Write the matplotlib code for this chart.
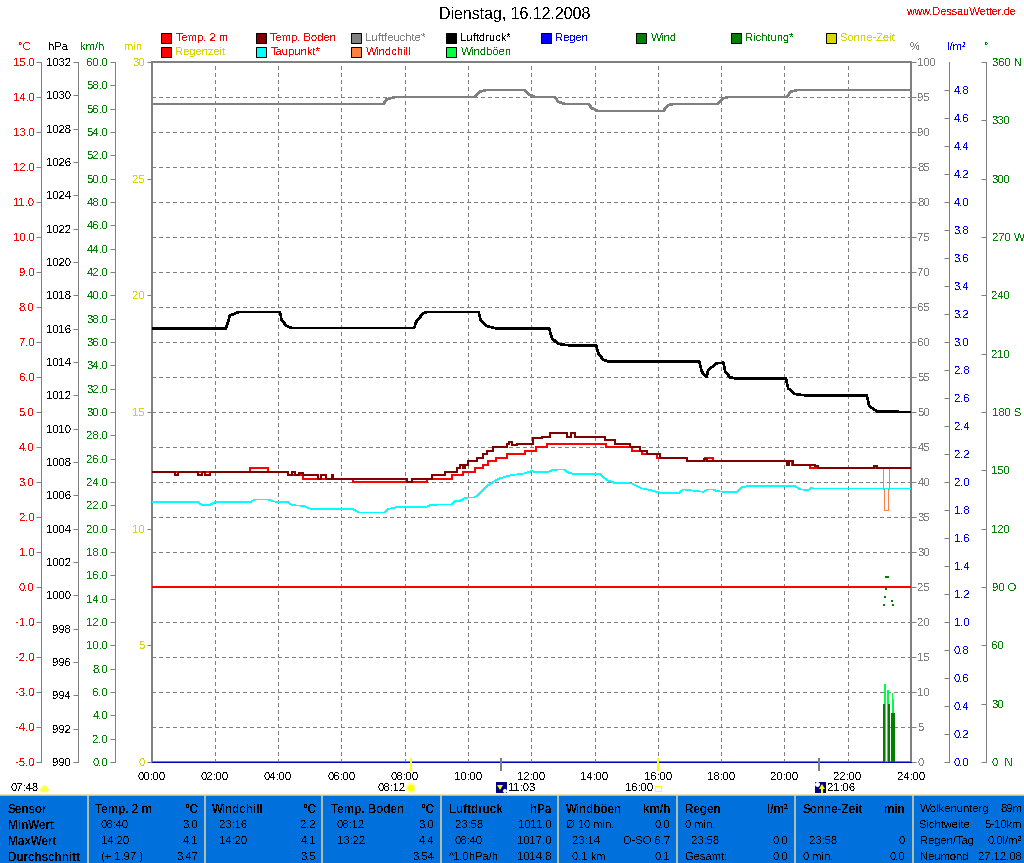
import matplotlib
matplotlib.use('Agg')
import matplotlib.pyplot as plt
from matplotlib.patches import Rectangle, Circle, Ellipse, Polygon

plt.rcParams['font.family'] = ['Liberation Sans', 'DejaVu Sans']
plt.rcParams['text.antialiased'] = False
plt.rcParams['text.hinting'] = 'native'

# ---------- data ----------
hours = list(range(0, 25, 2))
hour_labels = [f'{h:02d}:00' for h in hours]

pressure_t = [0, 2.35, 2.48, 2.77, 4.06, 4.11, 4.27, 4.43, 8.30, 8.36, 8.59, 8.70, 10.34, 10.40, 10.59, 10.91,
              12.57, 12.65, 12.85, 13.19, 14.05, 14.12, 14.28, 14.47, 17.31, 17.39, 17.54, 17.59, 17.86, 18.07,
              18.13, 18.28, 18.51, 20.05, 20.12, 20.33, 20.65, 22.60, 22.68, 22.92, 24]
pressure_v = [1016.0, 1016.0, 1016.8, 1017.0, 1017.0, 1016.52, 1016.16, 1016.04, 1016.04, 1016.4, 1016.94, 1017.0,
              1017.0, 1016.52, 1016.16, 1016.0, 1016.0, 1015.44, 1015.08, 1015.0, 1015.0, 1014.52, 1014.12, 1014.02,
              1014.02, 1013.42, 1013.08, 1013.52, 1013.92, 1013.96, 1013.42, 1013.08, 1013.0, 1013.0, 1012.42,
              1012.08, 1012.0, 1012.0, 1011.36, 1011.04, 1011.0]

humid_t = [0, 7.33, 7.43, 7.69, 10.22, 10.38, 10.59, 11.80, 11.91, 12.12, 12.75, 12.85, 13.07, 13.82, 13.91, 14.12,
           16.17, 16.33, 16.51, 17.89, 18.06, 18.22, 20.07, 20.20, 20.41, 24]
humid_v = [94, 94, 94.67, 95, 95, 95.76, 96, 96, 95.4, 95, 95, 94.3, 94, 94, 93.4, 93,
           93, 93.86, 94, 94, 94.8, 95, 95, 95.76, 96, 96]

temp_t = [0, 3.11, 3.69, 4.32, 4.80, 6.38, 8.70, 9.49, 9.83, 10.22, 10.49, 10.64, 10.89, 11.22, 11.80, 12.15, 12.49,
          14.36, 15.17, 15.49, 15.96, 16.91, 17.49, 17.73, 20.23, 20.81, 24]
temp_v = [3.3, 3.4, 3.3, 3.2, 3.1, 3.0, 3.1, 3.2, 3.3, 3.4, 3.5, 3.6, 3.7, 3.8, 3.9, 4.0, 4.1,
          4.0, 3.9, 3.8, 3.7, 3.6, 3.7, 3.6, 3.5, 3.4, 3.4]

soil_t = [0, 0.75, 0.85, 1.48, 1.60, 1.70, 1.85, 4.32, 4.45, 4.55, 4.65, 4.80, 5.27, 5.35, 5.50, 5.70, 5.75, 8.06,
          8.22, 8.85, 9.27, 9.64, 9.75, 9.85, 9.90, 10.01, 10.27, 10.49, 10.59, 10.80, 11.22, 11.30, 11.40, 11.55,
          12.07, 12.33, 12.59, 13.12, 13.25, 13.38, 14.33, 14.65, 15.12, 15.44, 15.65, 16.07, 16.91, 17.45, 17.55,
          20.07, 20.15, 20.28, 20.97, 21.05, 22.83, 22.93, 24]
soil_v = [3.3, 3.2, 3.3, 3.2, 3.3, 3.2, 3.3, 3.2, 3.3, 3.2, 3.25, 3.2, 3.1, 3.2, 3.1, 3.2, 3.1, 3.0,
          3.1, 3.2, 3.3, 3.4, 3.5, 3.4, 3.5, 3.6, 3.7, 3.8, 3.9, 4.0, 4.1, 4.15, 4.05, 4.1,
          4.25, 4.3, 4.4, 4.3, 4.4, 4.3, 4.2, 4.1, 4.0, 3.9, 3.8, 3.7, 3.6, 3.65, 3.6,
          3.5, 3.6, 3.5, 3.45, 3.4, 3.45, 3.4, 3.4]

dew_t = [0, 1.48, 1.58, 1.80, 2.01, 3.11, 3.27, 3.69, 3.80, 4.01, 4.32, 4.43, 4.80, 4.96, 5.11, 6.38, 6.54, 7.38,
         7.48, 7.75, 8.64, 8.85, 9.49, 9.59, 9.75, 9.91, 10.22, 10.43, 10.64, 10.96, 11.33, 11.64, 11.80, 12.01,
         12.17, 12.49, 12.70, 13.04, 13.17, 13.33, 14.17, 14.38, 14.65, 15.17, 15.49, 15.75, 16.12, 16.65, 16.81,
         16.96, 17.44, 17.60, 17.75, 17.86, 18.18, 18.49, 18.65, 18.91, 20.33, 20.49, 20.75, 20.86, 20.91, 24]
dew_v = [2.42, 2.42, 2.35, 2.33, 2.42, 2.42, 2.50, 2.50, 2.46, 2.42, 2.42, 2.34, 2.32, 2.25, 2.22, 2.22, 2.13, 2.13,
         2.23, 2.28, 2.28, 2.35, 2.36, 2.45, 2.46, 2.55, 2.56, 2.72, 2.91, 3.09, 3.19, 3.23, 3.25, 3.31,
         3.28, 3.28, 3.35, 3.36, 3.27, 3.23, 3.23, 3.06, 2.97, 2.96, 2.82, 2.77, 2.68, 2.68, 2.79,
         2.77, 2.72, 2.79, 2.79, 2.74, 2.71, 2.71, 2.85, 2.89, 2.88, 2.79, 2.77, 2.84, 2.81, 2.81]

chill_t = [23.13, 23.13, 23.16, 23.16, 23.27, 23.27, 23.30, 23.30]
chill_v = [3.4, 2.8, 2.8, 2.2, 2.2, 2.8, 2.8, 3.4]

zero_t = [0, 24]
zero_v = [0.0, 0.0]

rain_t = [0, 24]
rain_v = [0.0, 0.0]

dir_t = [23.22, 23.28, 23.21, 23.18, 23.40, 23.14, 23.43]
dir_v = [95, 95, 89, 85, 83, 81, 81]

gust_l = [23.15, 23.25, 23.40, 23.44]
gust_r = [23.21, 23.29, 23.44, 23.47]
gust_v = [6.7, 6.2, 5.9, 5.4]

wind_l = [23.11, 23.27, 23.37]
wind_r = [23.19, 23.34, 23.50]
wind_v = [5.0, 5.0, 4.2]

sun_ticks = [8.2, 16.0]
moon_ticks = [11.05, 21.1]

temp_ticks = list(range(-5, 16))
press_ticks = list(range(990, 1033, 2))
kmh_ticks = list(range(0, 61, 2))
min_ticks = list(range(0, 31, 5))
pct_ticks = list(range(0, 101, 5))
rain_ticks = [i / 5 for i in range(0, 25)]
deg_ticks = list(range(0, 361, 30))
deg_labels = {0: '0  N', 90: '90 O', 180: '180 S', 270: '270 W', 360: '360 N'}

legend_cols = [161, 256, 351, 446, 541, 636, 731, 826]
legend_row1 = [('Temp. 2 m', '#ff0000', '#ff0000'), ('Temp. Boden', '#800000', '#ff0000'),
               ('Luftfeuchte*', '#808080', '#808080'), ('Luftdruck*', '#000000', '#000000'),
               ('Regen', '#0000ff', '#0000ff'), ('Wind', '#008000', '#008000'),
               ('Richtung*', '#008000', '#008000'), ('Sonne-Zeit', '#d8d800', '#d8d800')]
legend_row2 = [('Regenzeit', '#ff0000', '#d8d800'), ('Taupunkt*', '#00ffff', '#ff0000'),
               ('Windchill', '#ff8040', '#ff0000'), ('Windböen', '#00ff40', '#008000')]

units = [(25, '°C', '#ff0000'), (58, 'hPa', '#000000'), (92, 'km/h', '#008000'), (133, 'min', '#d8d800'),
         (915, '%', '#808080'), (957, 'l/m²', '#0000ff'), (987, '°', '#008000')]

separators = [88, 205, 322, 441, 558, 677, 795, 913]
row_y = [809, 825, 841, 857]
# (x, text, row, bold, align)
table = [
    (8, 'Sensor', 0, True, 'left'), (8, 'MinWert', 1, True, 'left'), (8, 'MaxWert', 2, True, 'left'),
    (8, 'Durchschnitt', 3, True, 'left'),
    (95, 'Temp. 2 m', 0, True, 'left'), (198, '°C', 0, True, 'right'),
    (101, '08:40', 1, False, 'left'), (198, '3.0', 1, False, 'right'),
    (101, '14:20', 2, False, 'left'), (198, '4.1', 2, False, 'right'),
    (101, '(+ 1.97 )', 3, False, 'left'), (198, '3.47', 3, False, 'right'),
    (212, 'Windchill', 0, True, 'left'), (316, '°C', 0, True, 'right'),
    (219, '23:16', 1, False, 'left'), (316, '2.2', 1, False, 'right'),
    (219, '14:20', 2, False, 'left'), (316, '4.1', 2, False, 'right'),
    (316, '3.5', 3, False, 'right'),
    (331, 'Temp. Boden', 0, True, 'left'), (434, '°C', 0, True, 'right'),
    (337, '08:12', 1, False, 'left'), (434, '3.0', 1, False, 'right'),
    (337, '13:22', 2, False, 'left'), (434, '4.4', 2, False, 'right'),
    (434, '3.54', 3, False, 'right'),
    (449, 'Luftdruck', 0, True, 'left'), (552, 'hPa', 0, True, 'right'),
    (455, '23:58', 1, False, 'left'), (552, '1011.0', 1, False, 'right'),
    (455, '08:40', 2, False, 'left'), (552, '1017.0', 2, False, 'right'),
    (449, '^1.0hPa/h', 3, False, 'left'), (552, '1014.8', 3, False, 'right'),
    (566, 'Windböen', 0, True, 'left'), (670, 'km/h', 0, True, 'right'),
    (566, 'Ø 10 min.', 1, False, 'left'), (670, '0.0', 1, False, 'right'),
    (572, '23:14', 2, False, 'left'), (670, 'O-SO 6.7', 2, False, 'right'),
    (572, '0.1 km', 3, False, 'left'), (670, '0.1', 3, False, 'right'),
    (685, 'Regen', 0, True, 'left'), (788, 'l/m²', 0, True, 'right'),
    (685, '0 min.', 1, False, 'left'),
    (691, '23:58', 2, False, 'left'), (788, '0.0', 2, False, 'right'),
    (685, 'Gesamt:', 3, False, 'left'), (788, '0.0', 3, False, 'right'),
    (803, 'Sonne-Zeit', 0, True, 'left'), (905, 'min', 0, True, 'right'),
    (809, '23:58', 2, False, 'left'), (905, '0', 2, False, 'right'),
    (803, '0 min.', 3, False, 'left'), (905, '0.0', 3, False, 'right'),
    (920, 'Wolkenunterg', 0, False, 'left'), (1022, '89m', 0, False, 'right'),
    (920, 'Sichtweite', 1, False, 'left'), (1022, '5-10km', 1, False, 'right'),
    (920, 'Regen/Tag', 2, False, 'left'), (1022, '0.0l/m²', 2, False, 'right'),
    (920, 'Neumond', 3, False, 'left'), (1022, '27.12.08', 3, False, 'right'),
]
sun_times = [(11, '07:48'), (378, '08:12'), (508, '11:03'), (625, '16:00'), (827, '21:06')]

# ---------- figure ----------
GREY = '#808080'
PX = 0.72
FS = 8
LINE2 = 1.5 * PX
LINE1 = 0.7 * PX
fig = plt.figure(figsize=(10.24, 8.63), dpi=100, facecolor='white')
rect = [151.5 / 1024, 1 - 762 / 863, 759.5 / 1024, 700 / 863]

bg = fig.add_axes([0, 0, 1, 1], zorder=0)
bg.set_xlim(0, 1024)
bg.set_ylim(863, 0)
bg.axis('off')


def overlay(ylim, z):
    a = fig.add_axes(rect, zorder=z)
    a.set_xlim(0, 24)
    a.set_ylim(*ylim)
    a.patch.set_alpha(0)
    for s in a.spines.values():
        s.set_visible(False)
    a.set_xticks([])
    a.set_yticks([])
    return a


def style_axis(a, side, ticks, labels, color, outward, direction, pad):
    a.yaxis.set_ticks_position(side)
    a.yaxis.set_label_position(side)
    a.set_yticks(ticks)
    a.set_yticklabels(labels)
    a.tick_params(axis='y', which='major', direction=direction, length=5 * PX, width=PX, color=GREY,
                  labelcolor=color, labelsize=FS, pad=pad)
    sp = a.spines[side]
    if outward > 0:
        sp.set_visible(True)
        sp.set_position(('outward', outward * PX))
        sp.set_color(GREY)
        sp.set_linewidth(PX)


# humidity axis carries grid and frame
ax_h = overlay((0, 100), 1)
ax_h.set_xticks(hours)
ax_h.set_xticklabels(hour_labels)
ax_h.tick_params(axis='x', length=0, labelsize=FS, pad=7.5, labelcolor='black')
style_axis(ax_h, 'right', pct_ticks, [str(p) for p in pct_ticks], GREY, 0, 'out', 1)
ax_h.grid(True, color=GREY, lw=PX, ls=(0, (3, 3)), antialiased=False)
ax_h.set_axisbelow(True)
for s in ax_h.spines.values():
    s.set_visible(True)
    s.set_color(GREY)
    s.set_linewidth(2 * PX)

ax_t = overlay((-5, 15), 2)
ax_p = overlay((990, 1032), 3)
ax_k = overlay((0, 60), 4)
ax_m = overlay((0, 30), 5)
ax_r = overlay((0, 5), 6)
ax_d = overlay((0, 360), 7)

style_axis(ax_t, 'left', temp_ticks, [f'{v:.1f}' for v in temp_ticks], '#ff0000', 110.5, 'out', 1)
style_axis(ax_p, 'left', press_ticks, [str(v) for v in press_ticks], '#000000', 74, 'out', 1)
style_axis(ax_k, 'left', kmh_ticks, [f'{v:.1f}' for v in kmh_ticks], '#008000', 37, 'out', 1)
style_axis(ax_m, 'left', min_ticks, [str(v) for v in min_ticks], '#d8d800', 0, 'out', 1)
style_axis(ax_r, 'right', rain_ticks, [f'{v:.1f}' for v in rain_ticks], '#0000ff', 37.5, 'in', 4)
style_axis(ax_d, 'right', deg_ticks, [deg_labels.get(v, str(v)) for v in deg_ticks], '#008000', 75, 'in', 4)

kw = dict(antialiased=False, solid_joinstyle='miter')
# wind bars
ax_k.bar(gust_l, gust_v, [r - l for l, r in zip(gust_l, gust_r)], align='edge', color='#00ff40', lw=0, zorder=2)
ax_k.bar(wind_l, wind_v, [r - l for l, r in zip(wind_l, wind_r)], align='edge', color='#008000', lw=0, zorder=3)
# direction dots
ax_d.plot(dir_t, dir_v, ls='none', marker='s', ms=2 * PX, color='#008000', mew=0, zorder=3)

ax_h.plot(humid_t, humid_v, color=GREY, lw=LINE2, **kw)
ax_p.plot(pressure_t, pressure_v, color='black', lw=LINE2, **kw)
ax_t.plot(zero_t, zero_v, color='#ff0000', lw=LINE2, **kw)
ax_t.plot(chill_t, chill_v, color='#ff8040', lw=LINE1, **kw)
ax_t.plot(dew_t, dew_v, color='#00ffff', lw=LINE1, **kw)
ax_t.step(temp_t, temp_v, where='post', color='#ff0000', lw=LINE2, **kw)
ax_t.step(soil_t, soil_v, where='post', color='#800000', lw=LINE2, **kw)
ax_r.plot(rain_t, rain_v, color='#0000c0', lw=LINE1, clip_on=False, **kw)

# sun / moon ticks under the axis
tr = ax_r.get_xaxis_transform()
ax_r.vlines(sun_ticks, -9 / 700, 4 / 700, transform=tr, color='#ffff00', lw=2 * PX, clip_on=False)
ax_r.vlines(moon_ticks, -9 / 700, 4 / 700, transform=tr, color=GREY, lw=2 * PX, clip_on=False)

# title and headers
bg.text(514.5, 15, 'Dienstag, 16.12.2008', ha='center', va='center', fontsize=11.4, color='black')
bg.text(1016, 12, 'www.DessauWetter.de', ha='right', va='center', fontsize=7.8, color='#ff0000')
for x, s, c in units:
    bg.text(x, 47, s, ha='center', va='center', fontsize=FS, color=c)

# legend
for row, y in ((legend_row1, 38), (legend_row2, 52)):
    for x, (s, sw, tc) in zip(legend_cols, row):
        bg.add_patch(Rectangle((x, y - 5), 10, 10, facecolor=sw, edgecolor='black', lw=PX))
        bg.text(x + 14.5, y, s, ha='left', va='center', fontsize=FS, color=tc)

# table
bg.add_patch(Rectangle((0, 795), 1024, 68, facecolor='#0070dc', edgecolor='none'))
bg.plot([0, 1024], [794.5, 794.5], color='#e8d8a0', lw=1.5 * PX)
for x in separators:
    bg.plot([x, x], [795, 863], color='#e8d8a0', lw=1.5 * PX)
for x, s, r, b, al in table:
    bg.text(x, row_y[r], s, ha=al, va='center', fontsize=8.4 if b else FS, color='black',
            fontweight='bold' if b else 'normal')

# sun row
for x, s in sun_times:
    bg.text(x, 788, s, ha='left', va='center', fontsize=FS, color='black')
bg.add_patch(Ellipse((44.5, 790), 9, 5, facecolor='#ffff40', edgecolor='none'))
bg.add_patch(Circle((44.5, 788), 2.6, facecolor='#ffff40', edgecolor='none'))
bg.add_patch(Circle((411, 788), 5, facecolor='#ffff99', edgecolor='none'))
bg.add_patch(Circle((411, 788), 3.3, facecolor='#ffff00', edgecolor='none'))
bg.add_patch(Rectangle((655, 786), 5.5, 5, facecolor='none', edgecolor='#ffff00', lw=PX))
bg.add_patch(Rectangle((496, 782), 11, 11, facecolor='#000080', edgecolor='none'))
bg.add_patch(Polygon([(497, 785), (503, 785), (500, 790)], facecolor='#ffff00', edgecolor='none'))
bg.add_patch(Circle((505, 791), 2, facecolor='white', edgecolor='none'))
bg.add_patch(Rectangle((815, 782), 11, 11, facecolor='#000080', edgecolor='none'))
bg.add_patch(Polygon([(819, 789), (825, 789), (822, 784)], facecolor='#ffff00', edgecolor='none'))
bg.add_patch(Rectangle((821, 788), 2, 5, facecolor='#ffff00', edgecolor='none'))
bg.add_patch(Circle((817.5, 784.5), 2.5, facecolor='white', edgecolor='none'))

fig.savefig('out.png', dpi=100)
